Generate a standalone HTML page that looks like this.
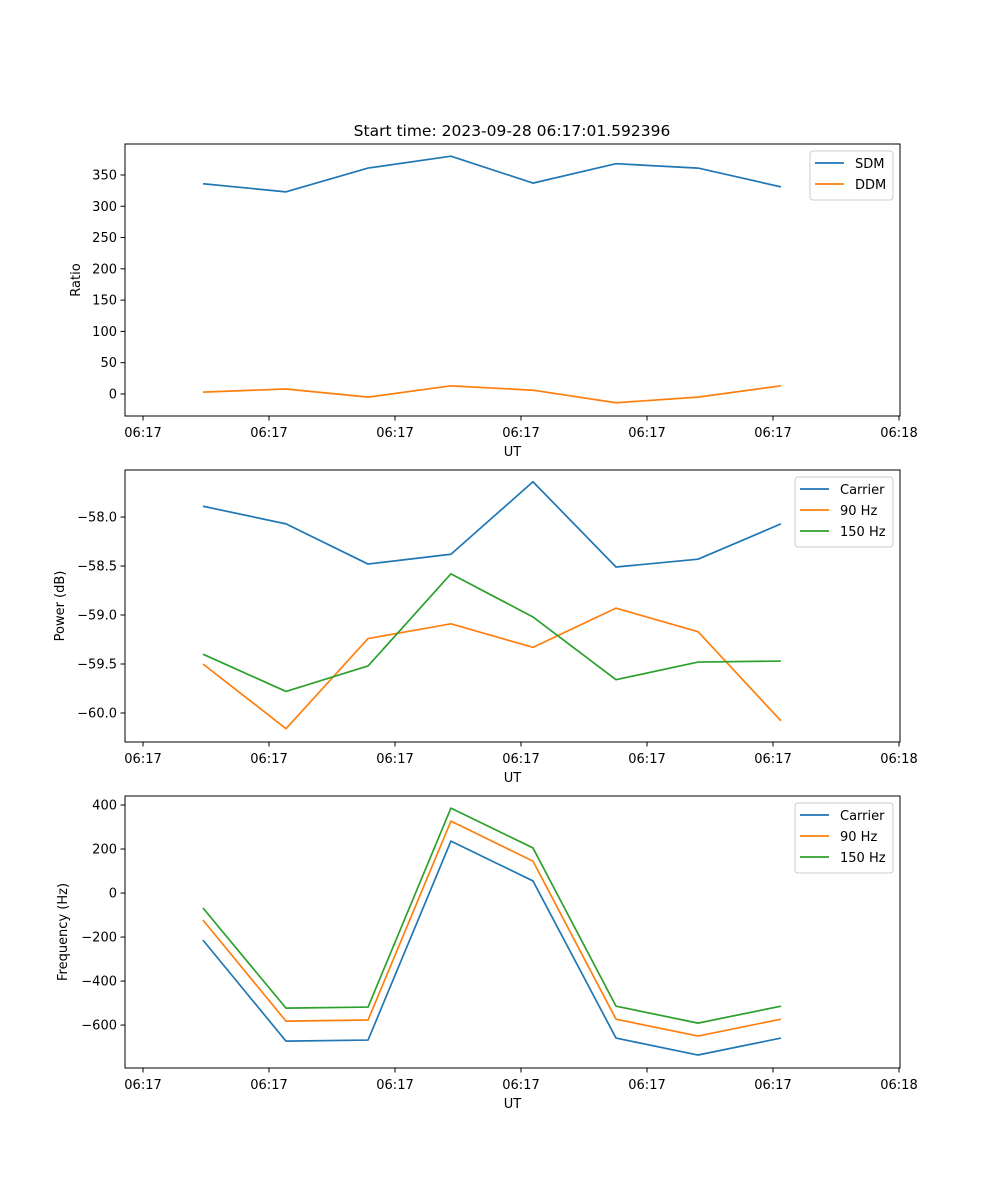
<!DOCTYPE html>
<html><head><meta charset="utf-8"><style>
html,body{margin:0;padding:0;background:#fff;}
svg{display:block;font-family:"DejaVu Sans","Liberation Sans",sans-serif;}
</style></head><body>
<svg id="fig" width="1000" height="1200" viewBox="0 0 1000 1200"></svg>
<script>
// shared x data (seconds since 06:17:00)
const times = [4.76, 11.35, 17.86, 24.44, 30.95, 37.54, 44.05, 50.63];
const xTicks = [0, 10, 20, 30, 40, 50, 60];
const xTickLabels = ["06:17","06:17","06:17","06:17","06:17","06:17","06:18"];
// panel 1
const sdm = [336, 323, 361, 380, 337, 368, 361, 331];
const ddm = [3, 8, -5, 13, 6, -14, -5, 13];
const ratioTicks = [0, 50, 100, 150, 200, 250, 300, 350];
// panel 2
const powCarrier = [-57.89, -58.07, -58.48, -58.38, -57.64, -58.51, -58.43, -58.07];
const pow90 = [-59.5, -60.16, -59.24, -59.09, -59.33, -58.93, -59.17, -60.08];
const pow150 = [-59.40, -59.78, -59.52, -58.58, -59.02, -59.66, -59.48, -59.47];
const powTicks = [-60.0, -59.5, -59.0, -58.5, -58.0];
// panel 3
const frCarrier = [-214, -673, -668, 236, 55, -659, -736, -659];
const fr90 = [-123, -582, -577, 327, 145, -573, -650, -573];
const fr150 = [-68, -523, -518, 386, 205, -514, -591, -514];
const frTicks = [-600, -400, -200, 0, 200, 400];

const NS = "http://www.w3.org/2000/svg";
const svg = document.getElementById('fig');
function el(tag, attrs, parent, text){
  const e = document.createElementNS(NS, tag);
  for (const k in attrs) e.setAttribute(k, attrs[k]);
  if (text !== undefined) e.textContent = text;
  (parent||svg).appendChild(e);
  return e;
}
const L = 125, R = 900, xmin = -1.43, xmax = 60.08;
const xs = t => L + (t - xmin) / (xmax - xmin) * (R - L);
const C = {blue:"#1f77b4", orange:"#ff7f0e", green:"#2ca02c"};
const minus = v => String(v).replace('-', '\u2212');

function panel(name, top, bot, ymin, ymax, yticks, fmt, ylabel, series, legend){
  const ys = v => bot - (v - ymin) / (ymax - ymin) * (bot - top);
  const g = el('g', {});
  
  
  series.forEach(s => {
    const pts = times.map((t, i) => xs(t).toFixed(2) + ',' + ys(s.vals[i]).toFixed(2)).join(' ');
    const p = el('polyline', {points: pts, fill: 'none', stroke: s.color, 'stroke-width': 1.7, 'stroke-linejoin': 'round'}, g);
    
    
  });
  const frame = el('rect', {x: L, y: top, width: R - L, height: bot - top, fill: 'none', stroke: '#000', 'stroke-width': 1}, g);
  
  
  xTicks.forEach((t, i) => {
    const x = xs(t);
    el('line', {x1: x, x2: x, y1: bot, y2: bot + 4.5, stroke: '#000', 'stroke-width': 1}, g);
    const tl = el('text', {x: x, y: bot + 21, 'font-size': 13, 'text-anchor': 'middle'}, g, xTickLabels[i]);
    
    
  });
  const xl = el('text', {x: (L + R) / 2, y: bot + 40, 'font-size': 13, 'text-anchor': 'middle'}, g, 'UT');
  
  
  yticks.forEach(v => {
    const y = ys(v);
    el('line', {x1: L - 4.5, x2: L, y1: y, y2: y, stroke: '#000', 'stroke-width': 1}, g);
    const tl = el('text', {x: L - 8, y: y + 4.5, 'font-size': 13, 'text-anchor': 'end'}, g, minus(fmt(v)));
    
    
  });
  const yl = el('text', {x: 0, y: 0, 'font-size': 13, 'text-anchor': 'middle', transform: `translate(${ylabel.x},${(top + bot) / 2}) rotate(-90)`}, g, ylabel.text);
  
  
  // legend
  const lg = el('g', {}, g);
  
  
  el('rect', {x: legend.x, y: top + 7, width: 893 - legend.x, height: series.length * 21 + 7, rx: 3, fill: '#fff', 'fill-opacity': 0.8, stroke: '#ccc', 'stroke-width': 1}, lg);
  series.forEach((s, i) => {
    const y = top + 19 + i * 21;
    el('line', {x1: legend.x + 5, x2: legend.x + 34, y1: y, y2: y, stroke: s.color, 'stroke-width': 1.7}, lg);
    const t = el('text', {x: legend.x + 45, y: y + 5, 'font-size': 13}, lg, s.label);
    
    
  });
}

const title = el('text', {x: 512, y: 136, 'font-size': 15.5, 'text-anchor': 'middle'}, svg, 'Start time: 2023-09-28 06:17:01.592396');



panel('ratio-panel', 144, 416, -35.2, 399.5, ratioTicks, v => String(v), {x: 80, text: 'Ratio'},
  [{id: 'sdm', vals: sdm, color: C.blue, label: 'SDM'}, {id: 'ddm', vals: ddm, color: C.orange, label: 'DDM'}], {x: 810});
panel('power-panel', 470, 742, -60.296, -57.52, powTicks, v => v.toFixed(1), {x: 64, text: 'Power (dB)'},
  [{id: 'power-carrier', vals: powCarrier, color: C.blue, label: 'Carrier'},
   {id: 'power-90hz', vals: pow90, color: C.orange, label: '90 Hz'},
   {id: 'power-150hz', vals: pow150, color: C.green, label: '150 Hz'}], {x: 795});
panel('frequency-panel', 796, 1068, -795, 441, frTicks, v => String(v), {x: 67, text: 'Frequency (Hz)'},
  [{id: 'freq-carrier', vals: frCarrier, color: C.blue, label: 'Carrier'},
   {id: 'freq-90hz', vals: fr90, color: C.orange, label: '90 Hz'},
   {id: 'freq-150hz', vals: fr150, color: C.green, label: '150 Hz'}], {x: 795});
</script>
</body></html>
